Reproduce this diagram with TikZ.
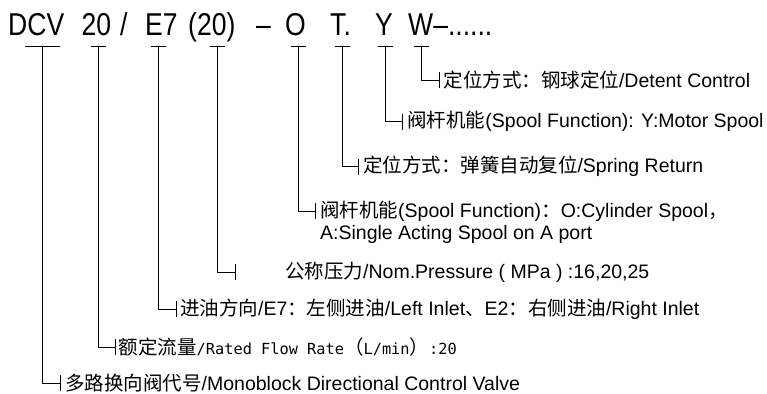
\documentclass[tikz,border=0pt]{standalone}
\usepackage{fontspec}
\setmainfont{Liberation Sans}
\newfontfamily\cjkfont{Noto Sans CJK SC}
\newfontfamily\codefont[FakeStretch=0.84]{Liberation Sans}
\newfontfamily\ttmono{DejaVu Sans Mono}
\usepackage{tikz}
\usetikzlibrary{positioning}
\newcommand{\zh}[1]{{\cjkfont #1}}
\newcommand{\mn}[1]{{\ttmono\fontsize{15.3}{18}\selectfont #1}}

\begin{document}
\begin{tikzpicture}[
  x=1pt, y=-1pt,
  code/.style = {font=\codefont\fontsize{31.6}{34}\selectfont, anchor=base west, inner sep=0pt},
  lbl/.style  = {font=\fontsize{19.5}{23}\selectfont, inner sep=0pt},
  lead/.style = {line width=0.9pt},
]
\useasboundingbox (0,0) rectangle (767,393);
% lead line: #1 tick top  #2 bar point
\newcommand{\leadto}[2]{%
  \draw[lead] (#1) |- (#2);
  \draw[lead] ([yshift=8pt]#2) -- ([yshift=-8pt]#2);
}
% model code, one node per field
\foreach \nm/\x/\s in {dcv/8/DCV, flow/81.5/20, sl/120/{/}, inlet/145/E7, press/188/(20), dsh/256/{–}, spO/285/O, ret/330/T., spY/375/Y, det/408/{W–......}}
  \node[code] (c\nm) at (\x,36) {\s};
% tick tops: name / x / bar width
\foreach \nm/\x/\w in {dcv/42.3/35, flow/98.7/15, inlet/158.7/15, press/217.7/15, spO/298.7/15, ret/342.3/15, spY/385.7/15, det/421.7/15}{
  \coordinate (t\nm) at (\x,46);
  \draw[lead] ([xshift=-\w*0.5]t\nm) -- ([xshift=\w*0.5]t\nm);
}
\coordinate (bdet) at (439.3,80);
\coordinate (bspY) at (402.7,121.7);
\coordinate (bret) at (358.3,166.7);
\coordinate (bspO) at (315,211);
\coordinate (bpress) at (235,272);
\coordinate (binlet) at (176,309);
\coordinate (bflow) at (115,347);
\coordinate (bdcv) at (60,383);
\node[lbl, right=4pt of bdet] (ldet) {\zh{定位方式：钢球定位}/Detent Control};
\node[lbl, right=4.5pt of bspY] (lspY) {\zh{阀杆机能}(Spool Function): Y:Motor Spool};
\node[lbl, right=4.5pt of bret] (lret) {\zh{定位方式：弹簧自动复位}/Spring Return};
\node[lbl, right=5pt of bspO] (lspO) {\zh{阀杆机能}(Spool Function)\zh{：}O:Cylinder Spool\zh{，}};
\node[lbl, anchor=base west] (lspO2) at ([yshift=-22pt]lspO.base west) {A:Single Acting Spool on A port};
\node[lbl, right=50pt of bpress] (lpress) {\zh{公称压力}/Nom.Pressure ( MPa ) :16,20,25};
\node[lbl, right=4pt of binlet] (linlet) {\zh{进油方向}/E7\zh{：左侧进油}/Left Inlet\zh{、}E2\zh{：右侧进油}/Right Inlet};
\node[lbl, right=3.5pt of bflow] (lflow) {\zh{额定流量}\mn{/Rated Flow Rate}\zh{（}\mn{L/min}\zh{）}\mn{:20}};
\node[lbl, right=5pt of bdcv] (ldcv) {\zh{多路换向阀代号}/Monoblock Directional Control Valve};
\leadto{tdet}{bdet}
\leadto{tspY}{bspY}
\leadto{tret}{bret}
\leadto{tspO}{bspO}
\leadto{tpress}{bpress}
\leadto{tinlet}{binlet}
\leadto{tflow}{bflow}
\leadto{tdcv}{bdcv}
\end{tikzpicture}
\end{document}
